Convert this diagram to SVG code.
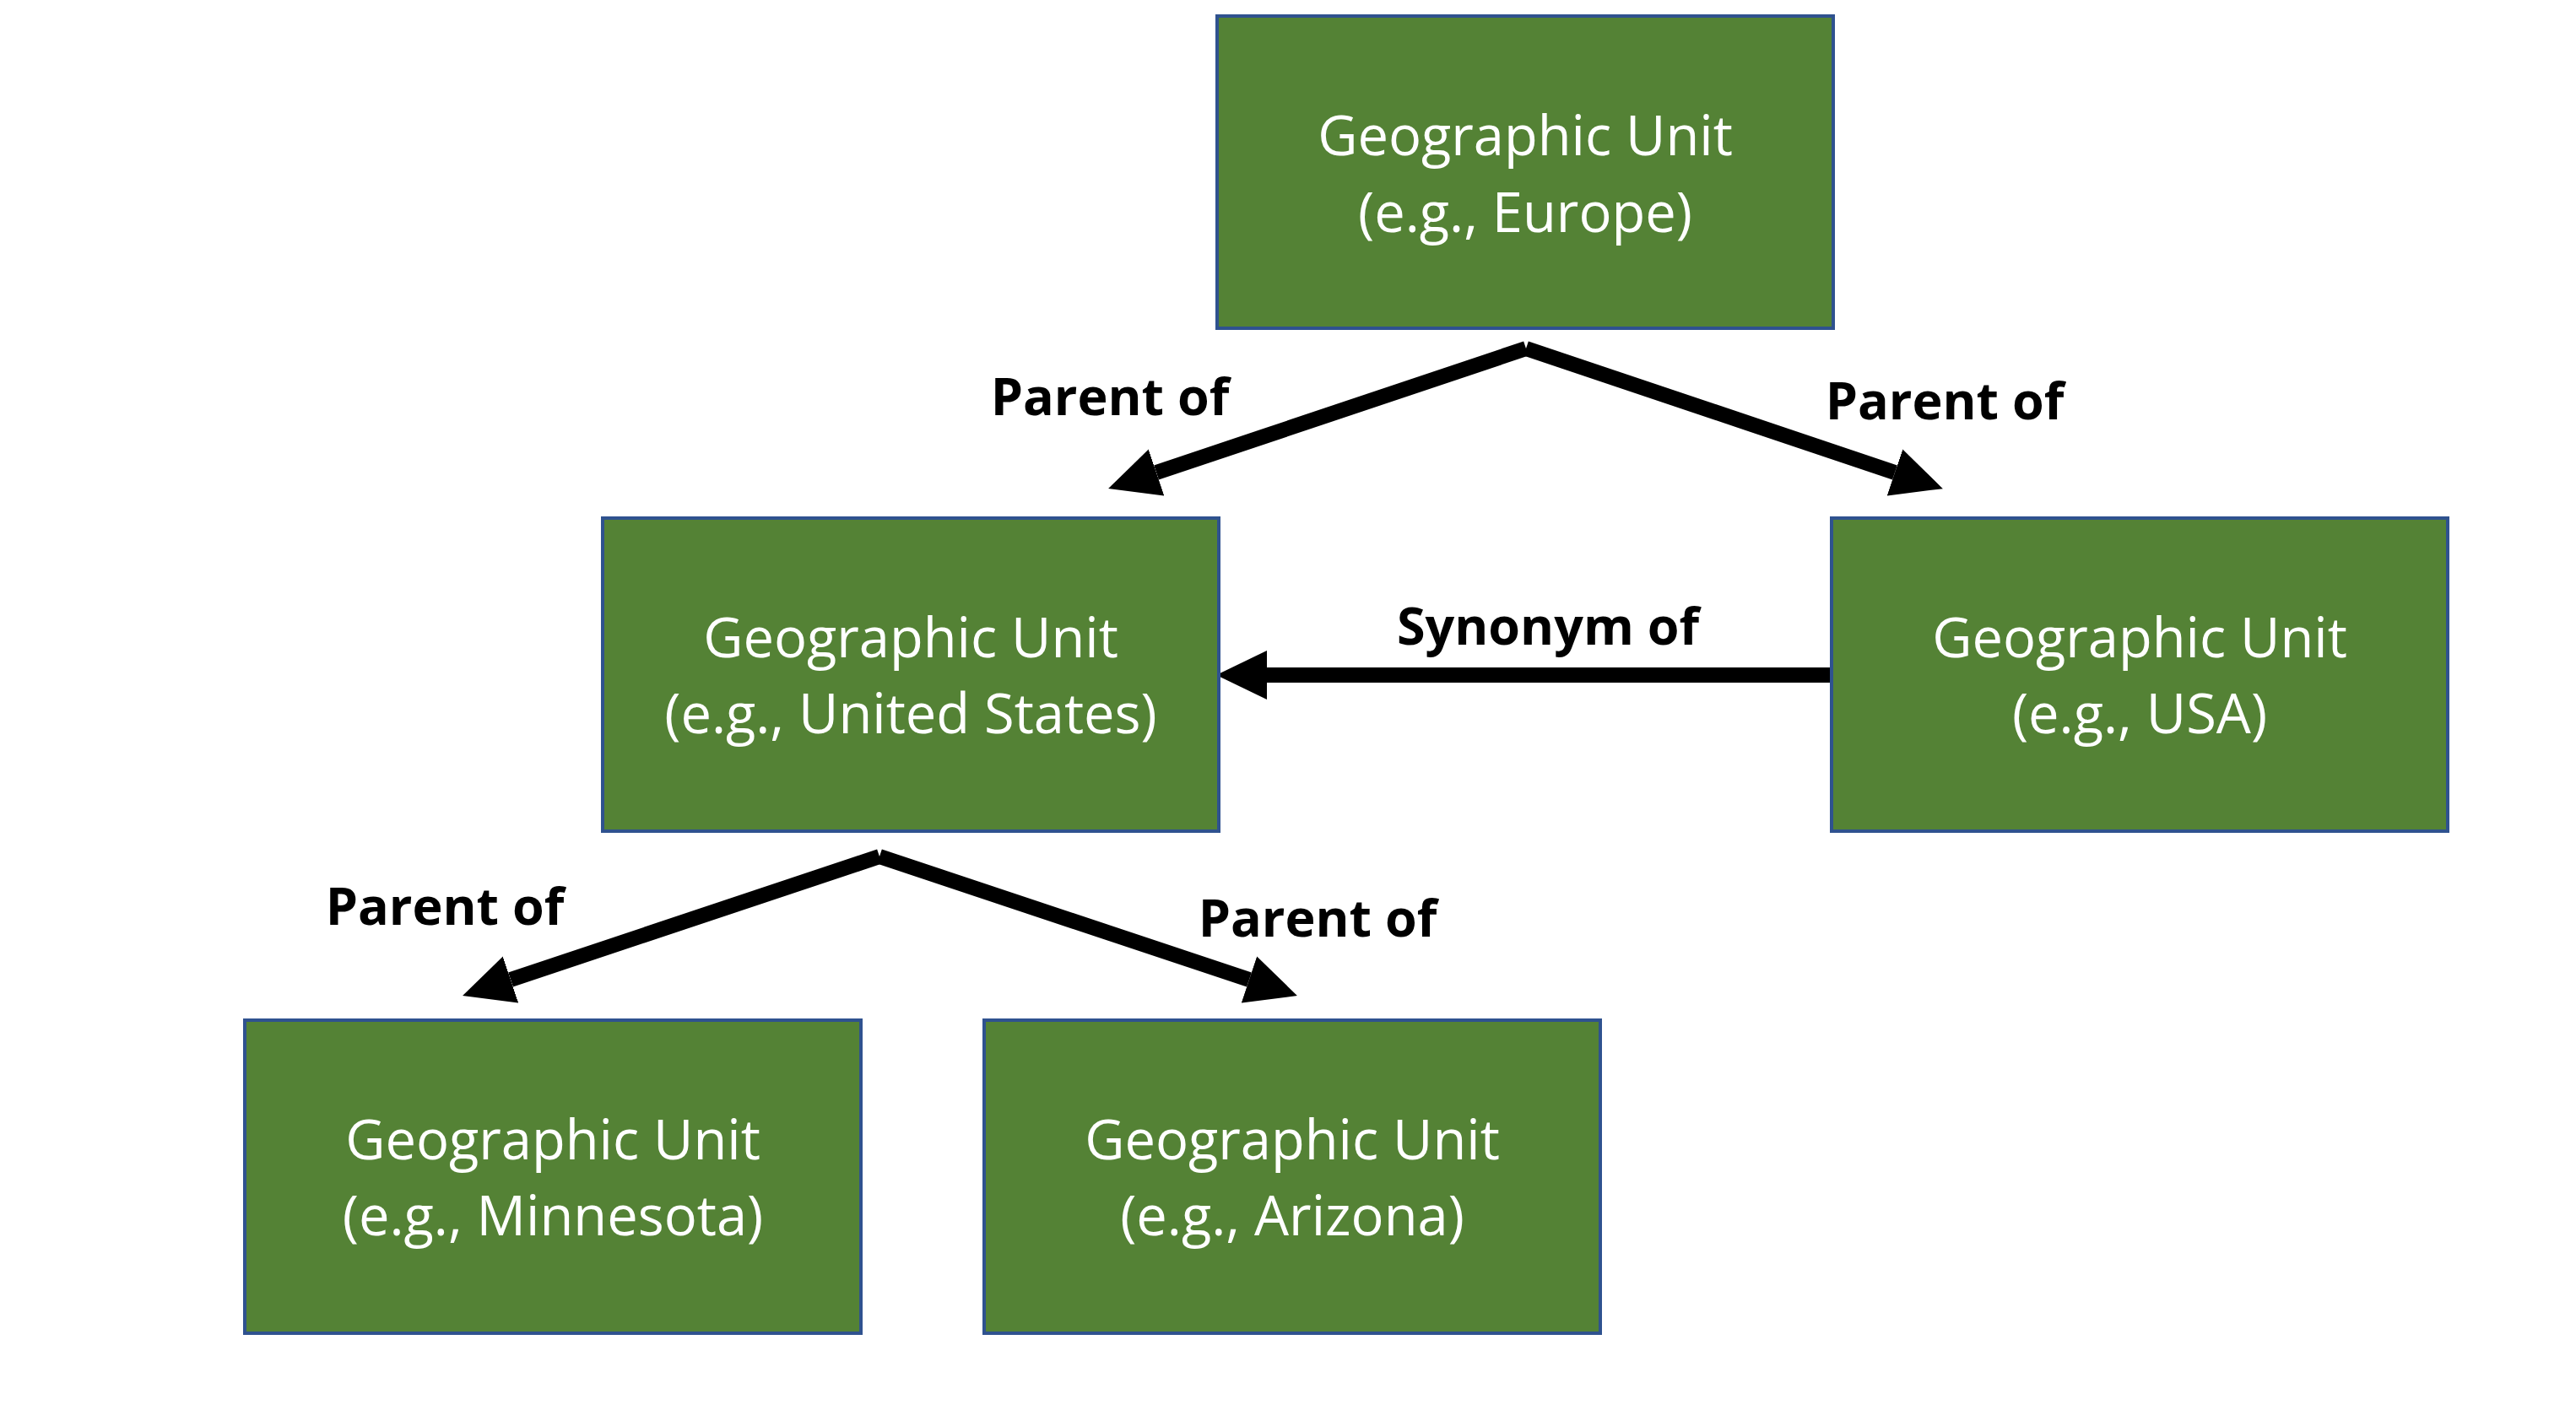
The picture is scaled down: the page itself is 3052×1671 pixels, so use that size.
<svg xmlns="http://www.w3.org/2000/svg" width="3052" height="1671" viewBox="0 0 3052 1671">
  <style>
    .box { fill: #548235; stroke: #2F528F; stroke-width: 4; }
    .nt { font-family: "Open Sans", "Noto Sans", sans-serif; font-size: 65px; fill: #ffffff; text-anchor: middle; }
    .lbl { font-family: "Open Sans", "Noto Sans", sans-serif; font-size: 61px; font-weight: bold; fill: #000000; text-anchor: middle; }
    .conn { stroke: #000000; stroke-width: 18; fill: none; stroke-linecap: butt; }
  </style>
  <defs>
    <marker id="ah" markerUnits="userSpaceOnUse" markerWidth="60" markerHeight="60" refX="0" refY="27.5" orient="auto" viewBox="0 0 57 55">
      <path d="M0,0 L57,27.5 L0,55 Z" fill="#000000"/>
    </marker>
  </defs>
  <rect width="3052" height="1671" fill="#ffffff"/>

  <g id="connectors">
    <line class="conn" x1="1808" y1="413" x2="1370" y2="560" marker-end="url(#ah)"/>
    <line class="conn" x1="1808" y1="413" x2="2245" y2="560" marker-end="url(#ah)"/>
    <line class="conn" x1="2170" y1="800" x2="1501" y2="800" marker-end="url(#ah)"/>
    <line class="conn" x1="1042" y1="1015" x2="605" y2="1161" marker-end="url(#ah)"/>
    <line class="conn" x1="1042" y1="1015" x2="1480" y2="1161" marker-end="url(#ah)"/>
    <text class="lbl" x="1315" y="492">Parent of</text>
    <text class="lbl" x="2304" y="497">Parent of</text>
    <text class="lbl" x="1834" y="764">Synonym of</text>
    <text class="lbl" x="527" y="1096">Parent of</text>
    <text class="lbl" x="1561" y="1110">Parent of</text>
  </g>

  <g id="node-europe">
    <rect class="box" x="1442" y="19" width="730" height="370"/>
    <text class="nt" x="1807" y="184">Geographic Unit</text>
    <text class="nt" x="1807" y="275">(e.g., Europe)</text>
  </g>
  <g id="node-united-states">
    <rect class="box" x="714" y="614" width="730" height="371"/>
    <text class="nt" x="1079" y="779">Geographic Unit</text>
    <text class="nt" x="1079" y="869">(e.g., United States)</text>
  </g>
  <g id="node-usa">
    <rect class="box" x="2170" y="614" width="730" height="371"/>
    <text class="nt" x="2535" y="779">Geographic Unit</text>
    <text class="nt" x="2535" y="869">(e.g., USA)</text>
  </g>
  <g id="node-minnesota">
    <rect class="box" x="290" y="1209" width="730" height="371"/>
    <text class="nt" x="655" y="1374">Geographic Unit</text>
    <text class="nt" x="655" y="1464">(e.g., Minnesota)</text>
  </g>
  <g id="node-arizona">
    <rect class="box" x="1166" y="1209" width="730" height="371"/>
    <text class="nt" x="1531" y="1374">Geographic Unit</text>
    <text class="nt" x="1531" y="1464">(e.g., Arizona)</text>
  </g>
</svg>
